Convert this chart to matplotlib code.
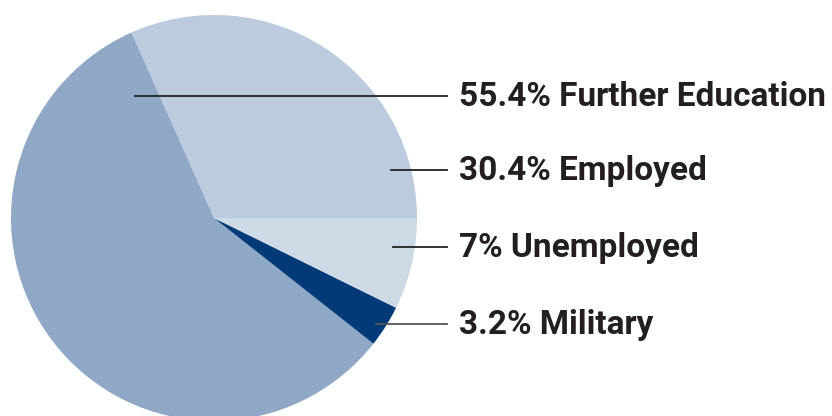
import matplotlib.pyplot as plt

# slices in drawing order, counterclockwise from 3 o'clock
categories = ['Employed', 'Further Education', 'Military', 'Unemployed']
values = [30.4, 55.4, 3.2, 7]
colors = ['#bccbdd', '#8fa8c6', '#003a78', '#cdd9e5']

# label order top to bottom, with where each leader line starts (pixels)
label_texts = ['55.4% Further Education', '30.4% Employed', '7% Unemployed', '3.2% Military']
label_y = [96, 170, 247, 324]
line_start_x = [135, 391, 393, 376]
line_colors = ['#222222', '#222222', '#222222', '#555555']

fig = plt.figure(figsize=(8.32, 4.16), dpi=100)
ax = fig.add_axes([0, 0, 1, 1])

# y axis runs downward so pixel positions
ax.pie(values, colors=colors, startangle=0, counterclock=False,
       center=(214, 218), radius=203, frame=True,
       wedgeprops=dict(linewidth=0))
ax.set_xlim(0, 832)
ax.set_ylim(416, 0)
ax.set_aspect('equal')
ax.axis('off')

for txt, y, x0, lc in zip(label_texts, label_y, line_start_x, line_colors):
    ax.plot([x0, 447], [y, y], color=lc, linewidth=1.3)
    ax.text(459, y + 1, txt, ha='left', va='center', fontsize=24, fontweight='bold',
            family=['Roboto', 'DejaVu Sans'], color='#231f20')

fig.savefig('out.png', dpi=100)
